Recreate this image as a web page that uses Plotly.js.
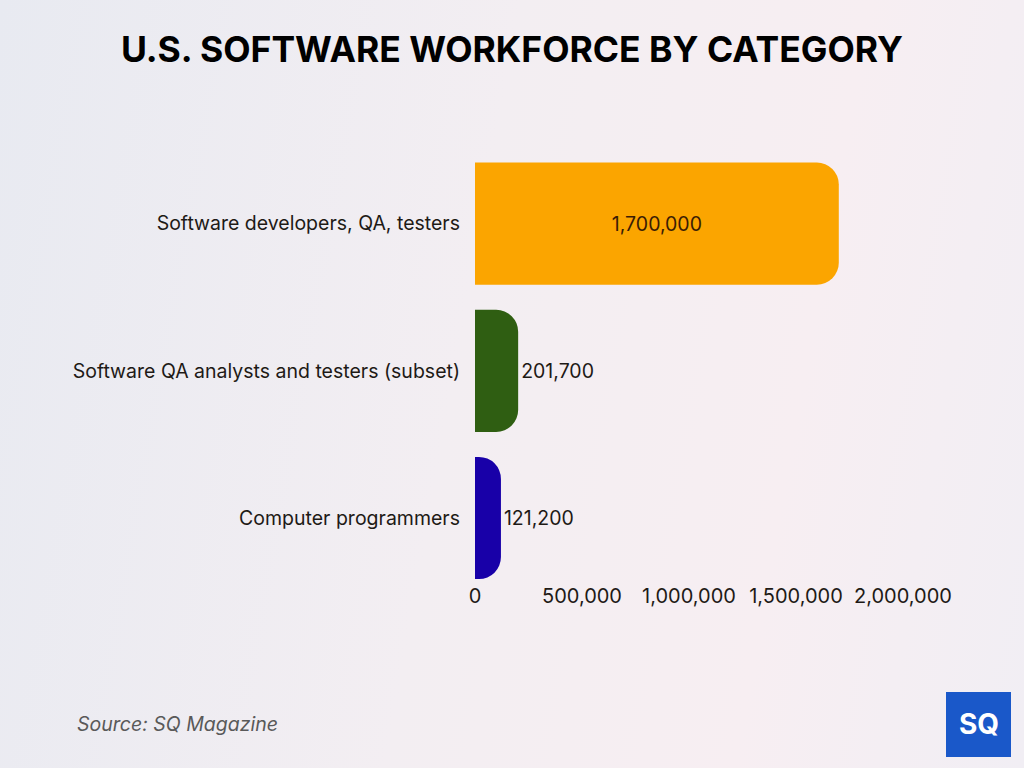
<!DOCTYPE html>
<html>
<head>
<meta charset="utf-8">
<script src="https://cdn.plot.ly/plotly-3.0.1.min.js"></script>
<style>
html,body{margin:0;padding:0;width:1024px;height:768px;overflow:hidden;
background:linear-gradient(100deg,#e8eaf1 0%,#f3eef2 45%,#f7eef2 75%,#f1eef4 100%);}
#chart{width:1024px;height:768px;}
</style>
</head>
<body>
<div id="chart"></div>
<script>
const categories = ["Computer programmers", "Software QA analysts and testers (subset)", "Software developers, QA, testers"];
const values = [121200, 201700, 1700000];
const valueLabels = ["121,200", "201,700", "1,700,000"];
const barColors = ["#1800a8", "#2f5e12", "#fba500"];
const tickVals = [0, 500000, 1000000, 1500000, 2000000];
const tickText = ["0", "500,000", "1,000,000", "1,500,000", "2,000,000"];

const L = 475, R = 121, T = 150, B = 183;
const W = 1024 - L - R, H = 768 - T - B;
const px = x => (x - L) / W;
const py = y => (768 - B - y) / H;

const trace = {
  type: 'bar',
  orientation: 'h',
  x: values,
  y: [0, 1, 2],
  text: valueLabels,
  textposition: ['outside', 'outside', 'inside'],
  insidetextanchor: 'middle',
  textfont: {family: 'Inter, sans-serif', size: 19.5, color: '#1e1a16'},
  outsidetextfont: {family: 'Inter, sans-serif', size: 19.5, color: '#1e1a16'},
  insidetextfont: {family: 'Inter, sans-serif', size: 19.5, color: '#3a1c05'},
  cliponaxis: false,
  marker: {color: barColors, cornerradius: 22},
  width: 0.83,
  hoverinfo: 'none'
};

const layout = {
  width: 1024, height: 768,
  paper_bgcolor: 'rgba(0,0,0,0)',
  plot_bgcolor: 'rgba(0,0,0,0)',
  margin: {l: L, r: R, t: T, b: B},
  showlegend: false,
  title: {
    text: '<b>U.S. SOFTWARE WORKFORCE BY CATEGORY</b>',
    x: 0.5, xref: 'container', xanchor: 'center',
    y: 1 - 50/768, yref: 'container', yanchor: 'middle',
    font: {family: 'Inter, sans-serif', size: 35.5, color: '#000000', weight: 900}
  },
  xaxis: {
    range: [0, 2000000],
    tickvals: tickVals, ticktext: tickText,
    showgrid: false, zeroline: false, showline: false, ticks: '',
    ticklabelstandoff: -3,
    tickfont: {family: 'Inter, sans-serif', size: 20, color: '#1e1a16'},
    fixedrange: true
  },
  yaxis: {
    range: [-0.455, 2.5],
    tickvals: [0, 1, 2], ticktext: categories,
    showgrid: false, zeroline: false, showline: false, ticks: '',
    ticklabelstandoff: 14,
    tickfont: {family: 'Inter, sans-serif', size: 19.5, color: '#1e1a16'},
    fixedrange: true
  },
  shapes: [{
    type: 'rect', xref: 'paper', yref: 'paper',
    x0: px(946), x1: px(1011), y0: py(757), y1: py(692),
    fillcolor: '#1a58c9', line: {width: 0}
  }],
  annotations: [
    {
      text: 'Source: SQ Magazine', xref: 'paper', yref: 'paper',
      x: px(75), y: py(724), xanchor: 'left', yanchor: 'middle', showarrow: false,
      font: {family: 'Inter, sans-serif', size: 19.5, color: '#595959', style: 'italic'}
    },
    {
      text: '<b>SQ</b>', xref: 'paper', yref: 'paper',
      x: px(978.5), y: py(724), xanchor: 'center', yanchor: 'middle', showarrow: false,
      font: {family: 'Inter, sans-serif', size: 28, color: '#ffffff'}
    }
  ]
};

Plotly.newPlot('chart', [trace], layout, {displayModeBar: false, staticPlot: true});
</script>
</body>
</html>
